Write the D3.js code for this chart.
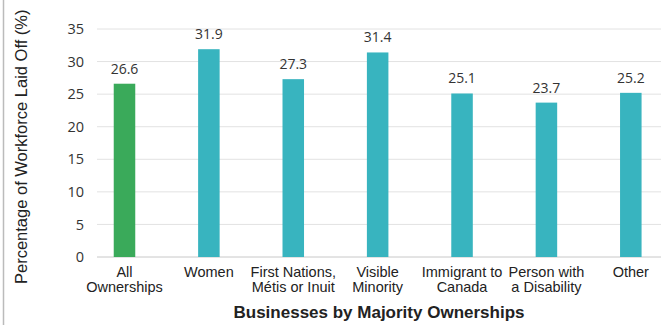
<!DOCTYPE html>
<html><head><meta charset="utf-8">
<script src="https://cdn.jsdelivr.net/npm/d3@7"></script>
<style>html,body{margin:0;padding:0;background:#fff;overflow:hidden}</style>
</head><body>
<svg id="c" width="661" height="325"></svg>
<script>
const categories = ["All Ownerships","Women","First Nations, Métis or Inuit","Visible Minority","Immigrant to Canada","Person with a Disability","Other"];
const labelLines = [["All","Ownerships"],["Women"],["First Nations,","Métis or Inuit"],["Visible","Minority"],["Immigrant to","Canada"],["Person with","a Disability"],["Other"]];
const values = [26.6,31.9,27.3,31.4,25.1,23.7,25.2];
const yTicks = [0,5,10,15,20,25,30,35];
const barColors = ["#3aaa5a","#38b4bf","#38b4bf","#38b4bf","#38b4bf","#38b4bf","#38b4bf"];

const svg = d3.select("#c");
const x = d3.scaleBand().domain(categories).range([82.3,673]).paddingInner(0.745).paddingOuter(0.3725);
const y = d3.scaleLinear().domain([0,35]).range([257,29]);

// frame line on left
svg.append("line").attr("x1",3.5).attr("x2",3.5).attr("y1",0).attr("y2",325).attr("stroke","#bbb").attr("stroke-width",1.5);

// gridlines
svg.append("g").selectAll("line").data(yTicks).join("line")
  .attr("x1",97).attr("x2",661).attr("y1",d=>y(d)).attr("y2",d=>y(d))
  .attr("stroke",d=>d===0?"#c8c8c8":"#e2e2e2").attr("stroke-width",1);

// y axis labels
const yAxis = d3.axisLeft(y).tickValues(yTicks).tickSize(0).tickPadding(0);
const ga = svg.append("g").attr("transform","translate(84,0)").call(yAxis);
ga.select(".domain").remove();
ga.selectAll("text").attr("font-family","'Open Sans', sans-serif").attr("font-size",14.5).attr("fill","#333");

// bars
svg.append("g").selectAll("rect").data(values).join("rect")
  .attr("x",(d,i)=>x(categories[i])).attr("width",x.bandwidth())
  .attr("y",d=>y(d)).attr("height",d=>y(0)-y(d))
  .attr("fill",(d,i)=>barColors[i]);

// value labels
svg.append("g").selectAll("text").data(values).join("text")
  .attr("x",(d,i)=>x(categories[i])+x.bandwidth()/2).attr("y",d=>y(d)-10)
  .attr("text-anchor","middle").attr("font-family","'Open Sans', sans-serif")
  .attr("font-size",14).attr("fill","#333").text(d=>d.toFixed(1));

// category labels
const cl = svg.append("g").selectAll("text").data(labelLines).join("text")
  .attr("text-anchor","middle").attr("font-family","'Liberation Sans', Arial, sans-serif")
  .attr("font-size",14.5).attr("fill","#222")
  .attr("transform",(d,i)=>`translate(${x(categories[i])+x.bandwidth()/2},277)`);
cl.selectAll("tspan").data(d=>d).join("tspan").attr("x",0).attr("dy",(d,i)=>i===0?0:15).text(d=>d);

// axis titles
svg.append("text").attr("x",379).attr("y",318).attr("text-anchor","middle")
  .attr("font-family","'Liberation Sans', Arial, sans-serif").attr("font-weight","bold")
  .attr("font-size",17).attr("fill","#222").text("Businesses by Majority Ownerships");
svg.append("text").attr("transform","translate(27,284) rotate(-90)").attr("text-anchor","start")
  .attr("font-family","'Liberation Sans', Arial, sans-serif")
  .attr("font-size",16.5).attr("fill","#222").text("Percentage of Workforce Laid Off (%)");
</script>
</body></html>
